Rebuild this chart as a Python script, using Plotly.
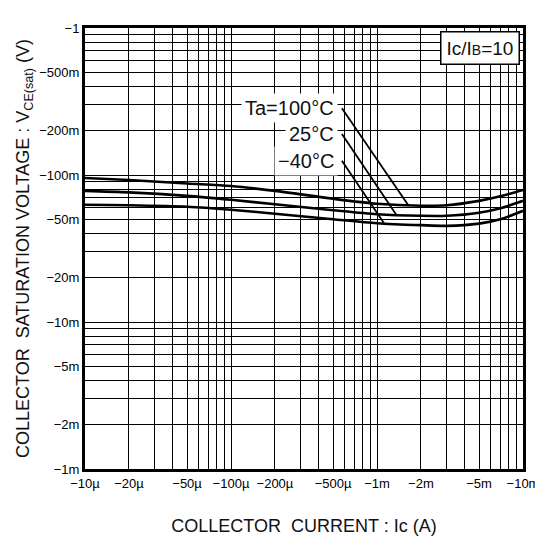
import math
import plotly.graph_objects as go

# Collector current magnitude (A)
ic = [10e-6, 20e-6, 50e-6, 100e-6, 200e-6, 500e-6, 1e-3, 2e-3, 3e-3, 5e-3, 7e-3, 10e-3]
# Collector saturation voltage magnitude (V)
vce_100 = [0.0954, 0.0925, 0.0876, 0.0842, 0.0780, 0.0689, 0.0637, 0.0618, 0.0622, 0.0667, 0.0716, 0.0792]
vce_25 = [0.0780, 0.0762, 0.0721, 0.0678, 0.0632, 0.0576, 0.0541, 0.0528, 0.0528, 0.0554, 0.0594, 0.0667]
vce_m40 = [0.0627, 0.0622, 0.0608, 0.0580, 0.0545, 0.0500, 0.0470, 0.0456, 0.0451, 0.0467, 0.0500, 0.0571]
series_names = ["Ta=100°C", "25°C", "−40°C"]

# tick labels
x_label_vals = [1e-5, 2e-5, 5e-5, 1e-4, 2e-4, 5e-4, 1e-3, 2e-3, 5e-3, 1e-2]
x_label_text = ["−10µ", "−20µ", "−50µ", "−100µ", "−200µ", "−500µ", "−1m", "−2m", "−5m", "−10m"]
y_label_vals = [1e-3, 2e-3, 5e-3, 1e-2, 2e-2, 5e-2, 1e-1, 2e-1, 5e-1, 1.0]
y_label_text = ["−1m", "−2m", "−5m", "−10m", "−20m", "−50m", "−100m", "−200m", "−500m", "−1"]

# label anchors (A, V) and leader-line ends on each curve (A, V)
label_pos = [(5.4e-4, 0.285), (5.4e-4, 0.190), (5.4e-4, 0.125)]
leader_start = [(5.75e-4, 0.285), (5.75e-4, 0.190), (5.75e-4, 0.125)]
leader_end = [(1.63e-3, 0.0627), (1.37e-3, 0.0528), (1.135e-3, 0.0459)]


def grid_vals(lo_exp, hi_exp):
    vals = []
    for e in range(lo_exp, hi_exp):
        for d in range(1, 10):
            vals.append(d * 10 ** e)
    vals.append(10 ** hi_exp)
    return vals


def tick_texts(vals, label_vals, label_text):
    out = []
    for v in vals:
        t = " "
        for lv, lt in zip(label_vals, label_text):
            if abs(math.log10(v) - math.log10(lv)) < 1e-6:
                t = lt
        out.append(t)
    return out


xg = grid_vals(-5, -2)
yg = grid_vals(-3, 0)

fig = go.Figure()
for name, ys in zip(series_names, [vce_100, vce_25, vce_m40]):
    fig.add_trace(go.Scatter(x=ic, y=ys, mode="lines", name=name,
                             line=dict(color="black", width=2.6, shape="spline", smoothing=0.8),
                             showlegend=False, hoverinfo="skip"))

for (sx, sy), (ex, ey) in zip(leader_start, leader_end):
    fig.add_trace(go.Scatter(x=[sx, ex], y=[sy, ey], mode="lines",
                             line=dict(color="black", width=1.8),
                             showlegend=False, hoverinfo="skip"))

tick_font = dict(family="Liberation Sans, Arial", size=13, color="black")
fig.update_xaxes(type="log", range=[-5, -2], tickvals=xg, ticktext=tick_texts(xg, x_label_vals, x_label_text),
                 showgrid=True, gridcolor="black", gridwidth=1.4, ticks="", automargin=False,
                 showline=True, linecolor="black", linewidth=3, mirror=True, zeroline=False,
                 tickfont=tick_font, tickangle=0,
                 title=dict(text="COLLECTOR  CURRENT : Ic (A)", standoff=30,
                            font=dict(family="Liberation Sans, Arial", size=18, color="#111")))
fig.update_yaxes(type="log", range=[-3, 0], tickvals=yg, ticktext=tick_texts(yg, y_label_vals, y_label_text),
                 showgrid=True, gridcolor="black", gridwidth=1.4, ticks="", automargin=False,
                 showline=True, linecolor="black", linewidth=3, mirror=True, zeroline=False,
                 tickfont=tick_font,
                 title=dict(text="COLLECTOR  SATURATION VOLTAGE : V<sub>CE(sat)</sub> (V)", standoff=5,
                            font=dict(family="Liberation Sans, Arial", size=18, color="#111")))

label_font = dict(family="Liberation Sans, Arial", size=20, color="#111")
for name, (lx, ly) in zip(series_names, label_pos):
    fig.add_annotation(x=math.log10(lx), y=math.log10(ly), xref="x", yref="y", text=name,
                       showarrow=False, xanchor="right", yanchor="middle", font=label_font,
                       bgcolor="white", borderpad=3)

fig.add_annotation(x=1, y=1, xref="paper", yref="paper", xanchor="right", yanchor="top",
                   xshift=-3, yshift=-3, showarrow=False,
                   text="Ic/I<span style='font-size:14px'>B</span>=10",
                   font=dict(family="Liberation Sans, Arial", size=19, color="#111"),
                   bgcolor="white", bordercolor="black", borderwidth=1.5, borderpad=5)

fig.update_layout(width=535, height=533, margin=dict(l=77, r=20, t=20, b=72),
                  paper_bgcolor="white", plot_bgcolor="white")
fig.write_html("out.html")
